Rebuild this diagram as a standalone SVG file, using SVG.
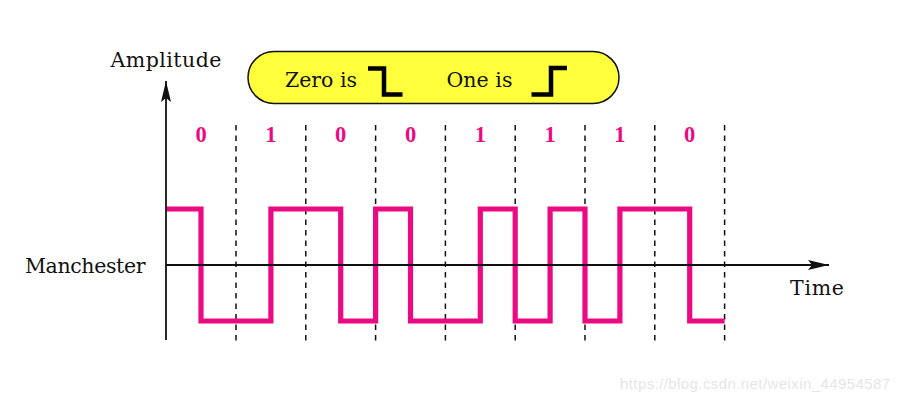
<svg xmlns="http://www.w3.org/2000/svg" width="900" height="402" viewBox="0 0 900 402">
<style>
.lbl{font-family:"DejaVu Serif","Liberation Serif",serif;font-size:20.5px;fill:#111}
.bit{font-family:"Liberation Serif",serif;font-weight:bold;font-size:22.5px;fill:#EC0A82;text-anchor:middle}
.dash{stroke:#111;stroke-width:1.5;stroke-dasharray:5.5,5;fill:none}
.axis{stroke:#111;stroke-width:1.8;fill:none}
.sig{stroke:#EC0A82;stroke-width:5.2;fill:none;stroke-linejoin:miter}
.step{stroke:#000;stroke-width:4.5;fill:none;stroke-linejoin:miter}
.wm{font-family:"Liberation Sans",Arial,sans-serif;font-size:15px;fill:#e6e6e6}
</style>
<defs>
<marker id="arr" markerUnits="userSpaceOnUse" markerWidth="24" markerHeight="14" viewBox="-22 -7 24 14" refX="0" refY="0" orient="auto">
<path d="M0,0 L-21,-5 L-17,0 L-21,5 Z" fill="#111"/>
</marker>
</defs>
<rect width="900" height="402" fill="#fff"/>
<g id="legend">
<rect x="248" y="51.5" width="371" height="52" rx="26" ry="26" fill="#FFFF3C" stroke="#111" stroke-width="1.5"/>
<text class="lbl" x="285" y="86.5" textLength="72">Zero is</text>
<path class="step" d="M368,68.5 H384 V94.5 H402.5"/>
<text class="lbl" x="446.5" y="86.5" textLength="66">One is</text>
<path class="step" d="M531.5,94.5 H551 V68 H567"/>
</g>
<g id="gridlines">
<line class="dash" x1="236" y1="125" x2="236" y2="342"/>
<line class="dash" x1="305.8" y1="125" x2="305.8" y2="342"/>
<line class="dash" x1="375.6" y1="125" x2="375.6" y2="342"/>
<line class="dash" x1="445.4" y1="125" x2="445.4" y2="342"/>
<line class="dash" x1="515.2" y1="125" x2="515.2" y2="342"/>
<line class="dash" x1="585" y1="125" x2="585" y2="342"/>
<line class="dash" x1="654.8" y1="125" x2="654.8" y2="342"/>
<line class="dash" x1="724.6" y1="125" x2="724.6" y2="342"/>
</g>
<g id="signal">
<path class="sig" d="M166,209 H201 V321 H270.9 V209 H340.7 V321 H375.6 V209 H410.5 V321 H480.3 V209 H515.2 V321 H550.1 V209 H585 V321 H619.9 V209 H689.7 V321 H724.6"/>
</g>
<g id="connectors">
<line class="axis" x1="166" y1="340" x2="166" y2="81" marker-end="url(#arr)"/>
<line class="axis" x1="166" y1="265" x2="829" y2="265" marker-end="url(#arr)"/>
</g>
<g id="bits">
<text class="bit" x="201" y="142.3">0</text>
<text class="bit" x="270.9" y="142.3">1</text>
<text class="bit" x="340.7" y="142.3">0</text>
<text class="bit" x="410.5" y="142.3">0</text>
<text class="bit" x="480.3" y="142.3">1</text>
<text class="bit" x="550.1" y="142.3">1</text>
<text class="bit" x="619.9" y="142.3">1</text>
<text class="bit" x="689.7" y="142.3">0</text>
</g>
<g id="labels">
<text class="lbl" x="110.5" y="66.5" textLength="111">Amplitude</text>
<text class="lbl" x="25" y="273" textLength="120.5">Manchester</text>
<text class="lbl" x="790" y="295" textLength="54">Time</text>
</g>
<text class="wm" x="620" y="389" textLength="270">https://blog.csdn.net/weixin_44954587</text>
</svg>
